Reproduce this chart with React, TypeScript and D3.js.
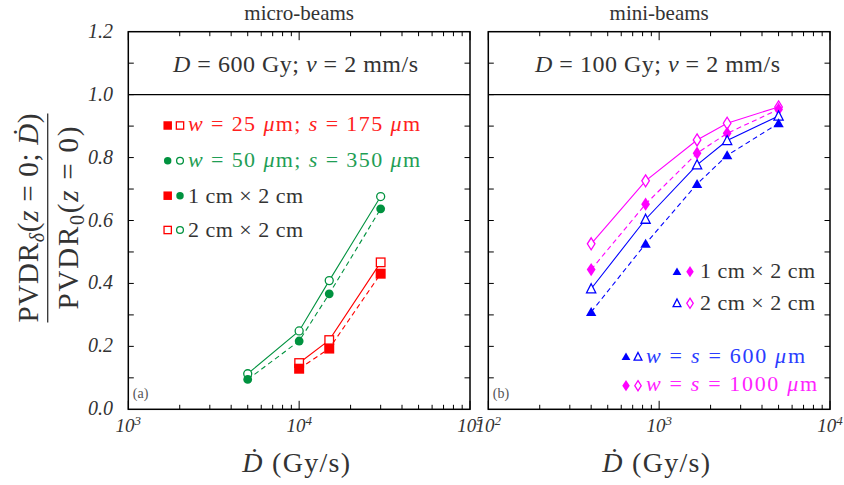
import React from "react";
import * as d3 from "d3";

// ---- data: micro-beams (panel a) ----
const microRates = [5000, 10000, 15000, 30000];
const micro50Open = [0.113, 0.249, 0.409, 0.676];
const micro50Filled = [0.095, 0.217, 0.367, 0.637];
const micro25Rates = [10000, 15000, 30000];
const micro25Open = [0.147, 0.22, 0.467];
const micro25Filled = [0.129, 0.193, 0.431];

// ---- data: mini-beams (panel b) ----
const miniRates = [400, 833, 1667, 2500, 5000];
const mini1000Open = [0.526, 0.726, 0.856, 0.909, 0.961];
const mini1000Filled = [0.444, 0.652, 0.814, 0.877, 0.953];
const mini600Open = [0.383, 0.604, 0.777, 0.854, 0.932];
const mini600Filled = [0.309, 0.526, 0.716, 0.807, 0.909];

const yTickLabels = ["0.0", "0.2", "0.4", "0.6", "0.8", "1.0", "1.2"];

const RED = "#ff0000";
const GREEN = "#00923f";
const BLUE = "#0000ff";
const MAGENTA = "#ff00ff";
const INK = "#333333";
const SERIF = "'Liberation Serif', 'Times New Roman', serif";

const TOP = 31.7;
const BOTTOM = 409.3;
const y = d3.scaleLinear().domain([0, 1.2]).range([BOTTOM, TOP]);

type Kind = "square" | "circle" | "triangle" | "diamond";

function Marker({ kind, filled, color, x, y: cy, s = 1 }: { kind: Kind; filled: boolean; color: string; x: number; y: number; s?: number }) {
  const fill = filled ? color : "white";
  const sw = 1.3;
  if (kind === "square") {
    const h = (filled ? 5 : 4.3) * s;
    return <rect x={x - h} y={cy - h} width={2 * h} height={2 * h} fill={fill} stroke={color} strokeWidth={filled ? 0 : sw} />;
  }
  if (kind === "circle") {
    const r = (filled ? 4.4 : 4) * s;
    return <circle cx={x} cy={cy} r={r} fill={fill} stroke={color} strokeWidth={filled ? 0 : sw} />;
  }
  if (kind === "triangle") {
    const w = (filled ? 5.2 : 4.6) * s;
    const hu = 5 * s;
    const hd = 4 * s;
    return <path d={`M${x},${cy - hu}L${x + w},${cy + hd}L${x - w},${cy + hd}Z`} fill={fill} stroke={color} strokeWidth={filled ? 0 : sw} />;
  }
  const w = (filled ? 4.4 : 3.8) * s;
  const h = (filled ? 6.6 : 6) * s;
  return <path d={`M${x},${cy - h}L${x + w},${cy}L${x},${cy + h}L${x - w},${cy}Z`} fill={fill} stroke={color} strokeWidth={filled ? 0 : sw} />;
}

function Series({ xs, ys, x, kind, filled, color, dashed }: { xs: number[]; ys: number[]; x: d3.ScaleLogarithmic<number, number>; kind: Kind; filled: boolean; color: string; dashed: boolean }) {
  const pts: [number, number][] = xs.map((v, i) => [x(v), y(ys[i])]);
  const line = d3.line();
  return (
    <g>
      <path d={line(pts) || ""} fill="none" stroke={color} strokeWidth={1.1} strokeDasharray={dashed ? "5,3.5" : undefined} />
      {pts.map(([px, py], i) => (
        <Marker key={i} kind={kind} filled={filled} color={color} x={px} y={py} />
      ))}
    </g>
  );
}

function Frame({ x, label }: { x: d3.ScaleLogarithmic<number, number>; label: string }) {
  const [x0, x1] = x.range();
  const [d0, d1] = x.domain();
  const majors: number[] = [];
  const minors: number[] = [];
  for (let p = Math.log10(d0); p <= Math.log10(d1) + 1e-9; p++) {
    const dec = Math.pow(10, p);
    majors.push(dec);
    if (dec < d1) for (let k = 2; k <= 9; k++) minors.push(dec * k);
  }
  const yTicks = d3.range(1, 12).map((i) => i * 0.1);
  return (
    <g>
      {minors.map((v) => (
        <g key={"mn" + v}>
          <line x1={x(v)} x2={x(v)} y1={BOTTOM} y2={BOTTOM - 4.5} stroke="black" strokeWidth={1} />
          <line x1={x(v)} x2={x(v)} y1={TOP} y2={TOP + 4.5} stroke="black" strokeWidth={1} />
        </g>
      ))}
      {majors.map((v) => (
        <g key={"mj" + v}>
          <line x1={x(v)} x2={x(v)} y1={BOTTOM} y2={BOTTOM - 8.5} stroke="black" strokeWidth={1} />
          <line x1={x(v)} x2={x(v)} y1={TOP} y2={TOP + 8.5} stroke="black" strokeWidth={1} />
        </g>
      ))}
      {yTicks.map((v) => (
        <g key={"yt" + v}>
          <line x1={x0} x2={x0 + 5.5} y1={y(v)} y2={y(v)} stroke="black" strokeWidth={1} />
          <line x1={x1} x2={x1 - 5.5} y1={y(v)} y2={y(v)} stroke="black" strokeWidth={1} />
        </g>
      ))}
      <line x1={x0} x2={x1} y1={y(1)} y2={y(1)} stroke="black" strokeWidth={1.3} />
      <rect x={x0} y={TOP} width={x1 - x0} height={BOTTOM - TOP} fill="none" stroke="black" strokeWidth={1.5} />
      <text x={x0 + 4.5} y={BOTTOM - 11} fontFamily={SERIF} fontSize={14} fill="#555">{label}</text>
      {majors.map((v) => (
        <text key={"xl" + v} x={x(v)} y={432} textAnchor="middle" fontFamily={SERIF} fontStyle="italic" fontSize={19} fill={INK}>
          10<tspan dy={-7} fontSize={13}>{Math.round(Math.log10(v))}</tspan>
        </text>
      ))}
      <text x={(x0 + x1) / 2 - 3} y={471.7} textAnchor="middle" fontFamily={SERIF} fontSize={28} fill={INK} textLength={108} lengthAdjust="spacing">
        <tspan fontStyle="italic">Ḋ</tspan> (Gy/s)
      </text>
    </g>
  );
}

function LegendText({ x, y: ty, width, color, size = 22, children }: { x: number; y: number; width: number; color: string; size?: number; children: React.ReactNode }) {
  return (
    <text x={x} y={ty} fontFamily={SERIF} fontSize={size} fill={color} textLength={width} lengthAdjust="spacing">
      {children}
    </text>
  );
}

export default function App() {
  const xa = d3.scaleLog().domain([1e3, 1e5]).range([128.3, 470]);
  const xb = d3.scaleLog().domain([1e2, 1e4]).range([488.3, 830]);
  const cA = (128.3 + 470) / 2;
  const cB = (488.3 + 830) / 2;
  return (
    <svg width={844} height={485} style={{ position: "absolute", left: 0, top: 0, background: "white" }}>
      {/* y-axis tick labels */}
      {yTickLabels.map((t) => (
        <text key={t} x={113} y={y(+t) + 6} textAnchor="end" fontFamily={SERIF} fontStyle="italic" fontSize={20} fill={INK}>
          {t}
        </text>
      ))}
      {/* y-axis title as a fraction */}
      <g transform="translate(47.7,218) rotate(-90)" fontFamily={SERIF} fill={INK}>
        <text x={0} y={-9.7} textAnchor="middle" fontSize={29} textLength={209} lengthAdjust="spacing">
          PVDR<tspan fontStyle="italic" fontSize={20} dy={6}>δ</tspan>
          <tspan dy={-6}>(</tspan><tspan fontStyle="italic">z</tspan> = 0; <tspan fontStyle="italic">Ḋ</tspan>)
        </text>
        <line x1={-104.5} x2={104.5} y1={0} y2={0} stroke={INK} strokeWidth={1.3} />
        <text x={0} y={30.3} textAnchor="middle" fontSize={29} textLength={183} lengthAdjust="spacing">
          PVDR<tspan fontSize={20} dy={6}>0</tspan>
          <tspan dy={-6}>(</tspan><tspan fontStyle="italic">z</tspan> = 0)
        </text>
      </g>

      {/* panel titles */}
      <text x={cA} y={20} textAnchor="middle" fontFamily={SERIF} fontSize={21} fill={INK}>micro-beams</text>
      <text x={cB} y={20} textAnchor="middle" fontFamily={SERIF} fontSize={21} fill={INK}>mini-beams</text>

      {/* ===== panel (a) ===== */}
      <Frame x={xa} label="(a)" />
      <text x={173} y={71.7} fontFamily={SERIF} fontSize={24} fill={INK} textLength={245} lengthAdjust="spacing">
        <tspan fontStyle="italic">D</tspan> = 600 Gy; <tspan fontStyle="italic">v</tspan> = 2 mm/s
      </text>
      <Series xs={microRates} ys={micro50Open} x={xa} kind="circle" filled={false} color={GREEN} dashed={false} />
      <Series xs={microRates} ys={micro50Filled} x={xa} kind="circle" filled={true} color={GREEN} dashed={true} />
      <Series xs={micro25Rates} ys={micro25Open} x={xa} kind="square" filled={false} color={RED} dashed={false} />
      <Series xs={micro25Rates} ys={micro25Filled} x={xa} kind="square" filled={true} color={RED} dashed={true} />

      {/* legend (a) */}
      <Marker kind="square" filled={true} color={RED} x={167.7} y={125.5} s={0.85} />
      <Marker kind="square" filled={false} color={RED} x={180} y={125.5} s={0.85} />
      <LegendText x={188} y={131} width={232} color="#ff2020">
        <tspan fontStyle="italic">w</tspan> = 25 <tspan fontStyle="italic">μ</tspan>m; <tspan fontStyle="italic">s</tspan> = 175 <tspan fontStyle="italic">μ</tspan>m
      </LegendText>
      <Marker kind="circle" filled={true} color={GREEN} x={167.7} y={160.7} s={0.85} />
      <Marker kind="circle" filled={false} color={GREEN} x={180} y={160.7} s={0.85} />
      <LegendText x={188} y={166.5} width={232} color="#1f9e55">
        <tspan fontStyle="italic">w</tspan> = 50 <tspan fontStyle="italic">μ</tspan>m; <tspan fontStyle="italic">s</tspan> = 350 <tspan fontStyle="italic">μ</tspan>m
      </LegendText>
      <Marker kind="square" filled={true} color={RED} x={167.7} y={195.7} s={0.85} />
      <Marker kind="circle" filled={true} color={GREEN} x={180} y={195.7} s={0.85} />
      <LegendText x={188} y={202.5} width={115} color={INK}>1 cm × 2 cm</LegendText>
      <Marker kind="square" filled={false} color={RED} x={167.7} y={230} s={0.85} />
      <Marker kind="circle" filled={false} color={GREEN} x={180} y={230} s={0.85} />
      <LegendText x={188} y={236.5} width={115} color={INK}>2 cm × 2 cm</LegendText>

      {/* ===== panel (b) ===== */}
      <Frame x={xb} label="(b)" />
      <text x={535} y={71.7} fontFamily={SERIF} fontSize={24} fill={INK} textLength={245} lengthAdjust="spacing">
        <tspan fontStyle="italic">D</tspan> = 100 Gy; <tspan fontStyle="italic">v</tspan> = 2 mm/s
      </text>
      <Series xs={miniRates} ys={mini1000Open} x={xb} kind="diamond" filled={false} color={MAGENTA} dashed={false} />
      <Series xs={miniRates} ys={mini1000Filled} x={xb} kind="diamond" filled={true} color={MAGENTA} dashed={true} />
      <Series xs={miniRates} ys={mini600Open} x={xb} kind="triangle" filled={false} color={BLUE} dashed={false} />
      <Series xs={miniRates} ys={mini600Filled} x={xb} kind="triangle" filled={true} color={BLUE} dashed={true} />

      {/* legend (b) */}
      <Marker kind="triangle" filled={true} color={BLUE} x={677} y={271.7} s={0.85} />
      <Marker kind="diamond" filled={true} color={MAGENTA} x={690} y={271.7} s={0.85} />
      <LegendText x={700} y={278} width={115} color={INK}>1 cm × 2 cm</LegendText>
      <Marker kind="triangle" filled={false} color={BLUE} x={677} y={303.3} s={0.85} />
      <Marker kind="diamond" filled={false} color={MAGENTA} x={690} y={303.3} s={0.85} />
      <LegendText x={700} y={309.5} width={115} color={INK}>2 cm × 2 cm</LegendText>
      <Marker kind="triangle" filled={true} color={BLUE} x={626} y={356.7} s={0.85} />
      <Marker kind="triangle" filled={false} color={BLUE} x={638} y={356.7} s={0.85} />
      <LegendText x={646} y={362.5} width={159} color="#2a3cff">
        <tspan fontStyle="italic">w</tspan> = <tspan fontStyle="italic">s</tspan> = 600 <tspan fontStyle="italic">μ</tspan>m
      </LegendText>
      <Marker kind="diamond" filled={true} color={MAGENTA} x={626} y={385.7} s={0.85} />
      <Marker kind="diamond" filled={false} color={MAGENTA} x={638} y={385.7} s={0.85} />
      <LegendText x={646} y={391} width={171} color="#ff22ff">
        <tspan fontStyle="italic">w</tspan> = <tspan fontStyle="italic">s</tspan> = 1000 <tspan fontStyle="italic">μ</tspan>m
      </LegendText>
    </svg>
  );
}
